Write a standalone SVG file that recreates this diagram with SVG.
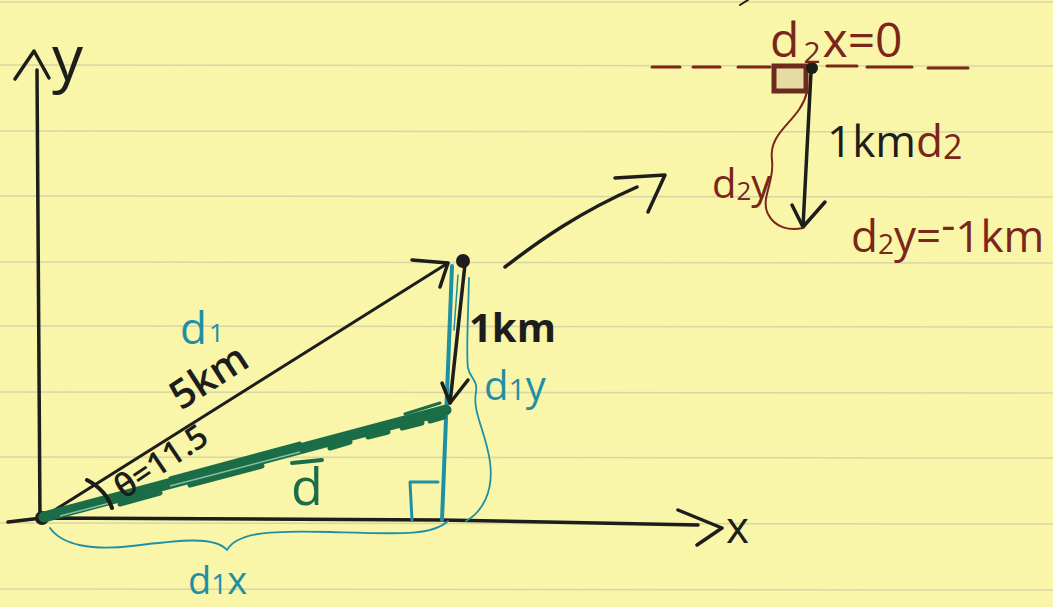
<svg xmlns="http://www.w3.org/2000/svg" width="1053" height="607" viewBox="0 0 1053 607">
<defs>
<style>
.ink{fill:none;stroke:#1d1d1b;stroke-linecap:round;stroke-linejoin:round}
.teal{fill:none;stroke:#1f90a4;stroke-linecap:round;stroke-linejoin:round}
.green{fill:none;stroke:#1b6d48;stroke-linecap:round;stroke-linejoin:round}
.brown{fill:none;stroke:#7a2619;stroke-linecap:round;stroke-linejoin:round}
.rule{stroke:#d8d6a6;stroke-width:1.6}
.t{font-family:"Open Sans","Liberation Sans",sans-serif}
.tk{fill:#1d1d1b}
.tt{fill:#1f90a4}
.tg{fill:#1b6d48}
.tb{fill:#7a2619}
</style>
</defs>
<rect width="1053" height="607" fill="#f9f5a9"/>
<g id="paper-lines">
<line class="rule" x1="0" y1="2" x2="1053" y2="2"/>
<line class="rule" x1="0" y1="65" x2="1053" y2="66"/>
<line class="rule" x1="0" y1="131" x2="1053" y2="132"/>
<line class="rule" x1="0" y1="196" x2="1053" y2="197"/>
<line class="rule" x1="0" y1="262" x2="1053" y2="263"/>
<line class="rule" x1="0" y1="326" x2="1053" y2="327"/>
<line class="rule" x1="0" y1="392" x2="1053" y2="393"/>
<line class="rule" x1="0" y1="457" x2="1053" y2="458"/>
<line class="rule" x1="0" y1="523" x2="1053" y2="524"/>
<line class="rule" x1="0" y1="589" x2="1053" y2="590"/>
</g>
<g id="axes">
<path class="ink" stroke-width="3.5" d="M40,520 L37,70"/>
<path class="ink" stroke-width="3.5" d="M15,79 L34,51 L49,78"/>
<text class="t tk" x="52" y="80" font-size="62">y</text>
<path class="ink" stroke-width="3.5" d="M8,522 L42,518 L440,520 L698,525"/>
<path class="ink" stroke-width="3.5" d="M678,510 L722,528 L697,545"/>
<text class="t tk" x="726" y="543" font-size="44">x</text>
<circle cx="42" cy="518" r="7" fill="#1d1d1b"/>
</g>
<g id="connectors">
<g id="d1-vector">
<path class="ink" stroke-width="3" d="M42,518 L448,263"/>
<path class="ink" stroke-width="3.5" d="M412,260 L448,263 L440,287"/>
<circle cx="463" cy="261" r="7" fill="#1d1d1b"/>
</g>
<g id="d1y-component">
<path class="teal" stroke-width="4" d="M452,266 L442,520"/>
<path class="teal" stroke-width="1.5" stroke="#5fb9c4" d="M458,275 L454,330"/>
</g>
<g id="one-km-arrow">
<path class="ink" stroke-width="3.5" d="M465,264 L450,403"/>
<path class="ink" stroke-width="3.5" d="M442,383 L450,403 L468,380"/>
</g>
<g id="resultant-d">
<path class="green" stroke-width="11" d="M44,517 L446,410"/>
<path class="green" stroke-width="5" d="M120,504 L160,493 M190,485 L262,466 M330,448 L350,442 M368,437 L388,432 M402,428 L422,423 M430,421 L444,417"/>
<path class="green" stroke-width="3" d="M170,478 L300,443 M405,414 L440,403"/>
<path stroke="#86c0a0" stroke-width="1.5" fill="none" d="M60,516 L110,503 M170,486 L300,452"/>
</g>
<g id="right-angle">
<path class="teal" stroke-width="3" d="M412,520 L410,482 L438,482"/>
</g>
<g id="angle-arc">
<path class="ink" stroke-width="4" d="M87,480 Q106,490 112,508"/>
</g>
<g id="d1y-brace">
<path class="teal" stroke-width="1.8" d="M469,278 C468,320 466,355 468,368 C470,378 478,380 476,392 C472,412 486,432 490,462 C494,492 482,512 466,521"/>
</g>
<g id="d1x-brace">
<path class="teal" stroke-width="1.8" d="M50,528 C62,545 92,551 132,546 C180,540 215,536 227,550 C236,534 262,530 330,532 C400,534 432,536 448,521"/>
</g>
<g id="zoom-arrow">
<path class="ink" stroke-width="3.5" d="M505,267 C540,240 580,212 637,187"/>
<path class="ink" stroke-width="3.5" d="M615,178 L665,175 L648,212"/>
</g>
</g>
<g id="labels-left">
<text class="t tt" x="180" y="344" font-size="44">d<tspan font-size="26" dx="2" dy="-2">1</tspan></text>
<text class="t tk" x="181" y="411" font-size="40" font-weight="600" transform="rotate(-33 181 411)">5km</text>
<text class="t tk" x="124" y="500" font-size="33" font-weight="600" transform="rotate(-34 124 500)">θ=11.5</text>
<text class="t tg" x="291" y="505" font-size="52">d</text>
<path class="green" stroke-width="4" d="M292,463 L322,460"/>
<text class="t tk" x="469" y="342" font-size="40" font-weight="700">1km</text>
<text class="t tt" x="484" y="400" font-size="40">d<tspan font-size="30">1</tspan>y</text>
<text class="t tt" x="188" y="594" font-size="38">d<tspan font-size="28">1</tspan>x</text>
</g>
<g id="inset">
<path class="brown" stroke-width="3" d="M652,67 L680,67 M693,67 L720,67 M738,67 L770,67 M827,66 L857,66 M867,67 L912,67 M928,68 L968,68"/>
<rect x="774" y="66" width="32" height="25" fill="#e6dca3" stroke="#6e2a1c" stroke-width="5"/>
<path class="ink" stroke-width="2" d="M740,5 L748,0"/>
<circle cx="812" cy="68" r="6" fill="#1d1d1b"/>
<path class="ink" stroke-width="3.5" d="M811,72 L803,227"/>
<path class="ink" stroke-width="3.5" d="M792,205 L803,227 L825,202"/>
<path class="brown" stroke-width="2" d="M807,92 C800,122 768,130 772,160 C775,182 760,198 768,214 C775,228 790,231 803,228"/>
<text class="t tb" x="770" y="57" font-size="48" font-weight="500">d<tspan font-size="30" dx="4" dy="6">2</tspan><tspan dx="2" dy="-6">x=0</tspan></text>
<text class="t tk" x="827" y="157" font-size="44">1km<tspan class="tb">d<tspan font-size="34" dy="2">2</tspan></tspan></text>
<text class="t tb" x="712" y="198" font-size="40">d<tspan font-size="26" dy="2">2</tspan><tspan dy="-2">y</tspan></text>
<text class="t tb" x="851" y="252" font-size="44">d<tspan font-size="28" dy="2">2</tspan><tspan dy="-2">y=</tspan><tspan dy="-12">-</tspan><tspan dy="12">1km</tspan></text>
</g>
</svg>
